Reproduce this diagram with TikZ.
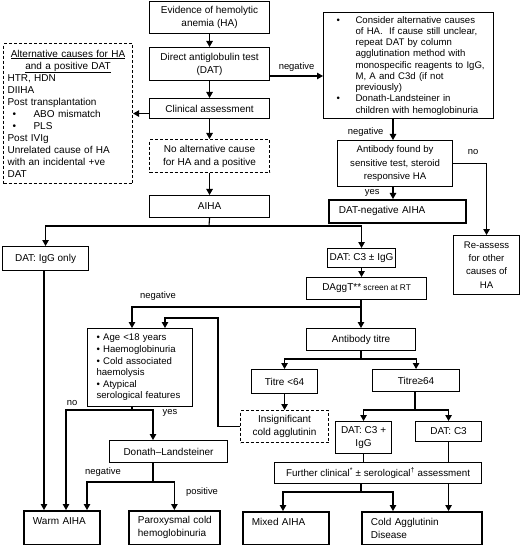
\documentclass[tikz,border=0pt]{standalone}
\usepackage{fontspec}
\setmainfont{Liberation Sans}
\usetikzlibrary{arrows.meta}
\newcommand\fM{\fontsize{10}{13}\selectfont}
\newcommand\fR{\fontsize{9.6}{11.25}\selectfont}
\newcommand\fRt{\fontsize{9.6}{13.2}\selectfont}
\newcommand\fL{\fontsize{10}{12}\selectfont}
\newcommand\fA{\fontsize{9.6}{11.6}\selectfont}
\newcommand\fS{\fontsize{9.4}{11}\selectfont}
\newcommand\bx[7]{\node[#6, anchor=north west, minimum width=#4-#2, minimum height=#5-#3] (#1) at (#2,#3) {#7};}
\tikzset{
  box/.style={draw, line width=1.1pt, fill=white, inner sep=0pt, align=center, font=\fM},
  tbox/.style={box, line width=1.8pt},
  dbox/.style={box, dash pattern=on 3pt off 2pt},
  lbl/.style={font=\fS, inner sep=0pt},
  arr/.style={-{Triangle[length=6pt,width=6.5pt]}, line width=1.1pt},
  ln/.style={line width=1.1pt}
}
\begin{document}
\begin{tikzpicture}[x=1pt,y=-1pt]
\useasboundingbox (0,0) rectangle (520,545);
% nodes
\bx{ev}{149}{1}{269}{33}{box}{Evidence of hemolytic\\anemia (HA)}
\bx{dat}{149}{47}{269}{80}{box}{Direct antiglobulin test\\(DAT)}
\bx{clin}{149}{98}{269}{118}{box}{Clinical assessment}
\bx{noalt}{149}{139}{269}{172}{dbox}{No alternative cause\\for HA and a positive}
\bx{aiha}{149}{195}{269}{217}{box}{AIHA}
\bx{alt}{3}{43}{132}{183}{dbox, align=left, font=\fL, text width=121pt, inner xsep=4pt}{%
\makebox[121pt][c]{\underline{Alternative causes for HA}}\\
\makebox[121pt][c]{\underline{and a positive DAT}}\\
HTR, HDN\\
DIIHA\\
Post transplantation\\
\hspace*{5pt}\makebox[21pt][l]{•}ABO mismatch\\
\hspace*{5pt}\makebox[21pt][l]{•}PLS\\
Post IVIg\\
Unrelated cause of HA\\
with an incidental +ve\\
DAT}
\bx{big}{323}{12}{493}{118}{box, align=left, font=\fR, text width=166pt, inner xsep=2pt}{%
\hspace*{11pt}\makebox[19pt][l]{•}Consider alternative causes\\
\hspace*{30pt}of HA.\ \ If cause still unclear,\\
\hspace*{30pt}repeat DAT by column\\
\hspace*{30pt}agglutination method with\\
\hspace*{30pt}monospecific reagents to IgG,\\
\hspace*{30pt}M, A and C3d (if not\\
\hspace*{30pt}previously)\\
\hspace*{11pt}\makebox[19pt][l]{•}Donath-Landsteiner in\\
\hspace*{30pt}children with hemoglobinuria}
\bx{ab}{337}{140}{452}{186}{box, font=\fRt}{Antibody found by\\sensitive test, steroid\\responsive HA}
\bx{dneg}{328}{199}{465}{222}{tbox, align=left, text width=117pt, inner xsep=10pt}{DAT-negative AIHA}
\bx{re}{453}{235}{519}{294}{box, font=\fRt}{Re-assess\\for other\\causes of\\HA}
\bx{digg}{2}{246}{88}{270}{box}{DAT: IgG only}
\bx{dc3}{327}{248}{395}{267}{box}{DAT: C3 ± IgG}
\bx{dagg}{306}{277}{426}{299}{box}{DAggT**{\fontsize{8.3}{10}\selectfont\ screen at RT}}
\bx{abt}{306}{328}{415}{350}{box}{Antibody titre}
\bx{age}{87}{328}{192}{406}{box, align=left, font=\fA, text width=87pt, inner xsep=9pt}{%
• Age <18 years\\
• Haemoglobinuria\\
• Cold associated\\
haemolysis\\
• Atypical\\
serological features}
\bx{dl}{109}{440}{227}{462}{box}{Donath–Landsteiner}
\bx{t64}{251}{369}{317}{393}{box}{Titre <64}
\bx{tge}{372}{369}{459}{391}{box}{Titre≥64}
\bx{ins}{240}{410}{328}{442}{dbox}{Insignificant\\cold agglutinin}
\bx{c3g}{335}{421}{391}{453}{box}{DAT: C3 +\\IgG}
\bx{c3}{415}{421}{481}{441}{box}{DAT: C3}
\bx{fur}{274}{462}{481}{483}{box, font=\fontsize{9.8}{12}\selectfont}{Further clinical\textsuperscript{*} ± serological\textsuperscript{†} assessment}
\bx{warm}{23}{510}{99}{544}{tbox, align=left, text width=58pt, inner xsep=9pt}{Warm AIHA\\\mbox{}}
\bx{pch}{128}{510}{219}{544}{tbox, align=left, text width=73pt, inner xsep=9pt}{\mbox{Paroxysmal cold}\\\mbox{hemoglobinuria}}
\bx{mix}{242}{511}{328}{544}{tbox, align=left, text width=68pt, inner xsep=9pt}{Mixed AIHA\\\mbox{}}
\bx{cad}{361}{511}{481}{544}{tbox, align=left, text width=102pt, inner xsep=9pt}{Cold Agglutinin\\Disease}
% helper coordinates
\coordinate (h1) at (209,226);
\coordinate (yneg) at (0,76);
\coordinate (xab) at (393,0);
\coordinate (h2) at (361,307);
\coordinate (xa1) at (132,0);
\coordinate (xa2) at (165,0);
\coordinate (k1) at (218,318);
\coordinate (h3) at (132,410);
\coordinate (xw1) at (44,0);
\coordinate (xw2) at (66,0);
\coordinate (xw3) at (87,0);
\coordinate (xd) at (153,0);
\coordinate (h4) at (153,482);
\coordinate (h5) at (361,359);
\coordinate (h6) at (415,410);
\coordinate (h7) at (361,492);
\coordinate (xm) at (283,0);
\coordinate (xc2) at (393,0);
% connectors
\draw[arr] (ev) -- (dat);
\draw[arr] (dat) -- (clin);
\draw[arr] (clin.west |- alt.east) -- (alt.east);
\draw[arr] (clin) -- (noalt);
\draw[arr] (noalt) -- (aiha);
\draw[ln] (aiha.south) -- (h1);
\draw[arr] (h1) -| (digg.north);
\draw[arr] (h1) -| (dc3.north);
\draw[arr] (dat.east |- yneg) -- (big.west |- yneg) node[lbl, midway, above=4pt]{negative};
\draw[arr] (big.south -| xab) -- (ab.north -| xab) node[lbl, pos=0.6, left=9pt]{negative};
\draw[arr] (ab.south -| xab) -- (dneg.north -| xab) node[lbl, pos=0.45, left=13pt]{yes};
\draw[arr] (ab.east) -| (re.north);
\node[lbl] at (473,152) {no};
\draw[arr] (dc3) -- (dc3.south |- dagg.north);
\draw[ln] (dagg.south -| h2) -- (h2);
\draw[arr] (h2) -- (abt.north -| h2);
\draw[arr] (h2) -| (age.north -| xa1);
\node[lbl] at (158,296) {negative};
\draw[arr] (ins.west) -| (k1) -| (age.north -| xa2);
\draw[ln] (age.south -| h3) -- (h3);
\draw[arr] (h3) -| (warm.north -| xw2);
\draw[arr] (h3) -| (dl.north -| xd);
\node[lbl] at (72,403) {no};
\node[lbl] at (170,413) {yes};
\draw[ln] (dl.south -| h4) -- (h4);
\draw[arr] (h4) -| (warm.north -| xw3);
\draw[arr] (h4) -| (pch.north);
\node[lbl] at (103,472) {negative};
\node[lbl] at (202,492) {positive};
\draw[arr] (digg.south -| xw1) -- (warm.north -| xw1);
\draw[ln] (abt.south -| h5) -- (h5);
\draw[arr] (h5) -| (t64.north);
\draw[arr] (h5) -| (tge.north);
\draw[arr] (t64) -- (ins);
\draw[ln] (tge.south -| h6) -- (h6);
\draw[arr] (h6) -| (c3g.north);
\draw[arr] (h6) -| (c3.north);
\draw[ln] (c3g.south) -- (c3g.south |- fur.north);
\draw[ln] (c3.south) -- (c3.south |- fur.north);
\draw[arr] (fur.south -| c3.south) -- (cad.north -| c3.south);
\draw[ln] (fur.south -| h7) -- (h7);
\draw[arr] (h7) -| (mix.north -| xm);
\draw[arr] (h7) -| (cad.north -| xc2);
\end{tikzpicture}
\end{document}
